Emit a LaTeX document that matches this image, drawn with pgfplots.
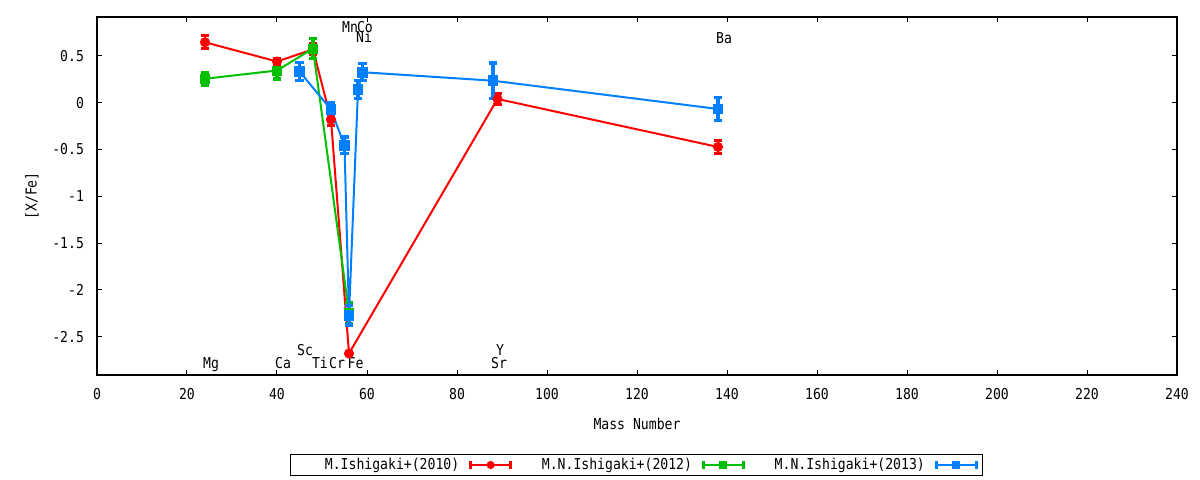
\documentclass[border=0pt]{standalone}
\usepackage{pgfplots}
\pgfplotsset{compat=1.18}
\usepackage{fontspec}
\setmainfont{DejaVu Sans Mono}[FakeStretch=0.875]
\definecolor{gred}{HTML}{FF0000}
\definecolor{ggreen}{HTML}{00C000}
\definecolor{gblue}{HTML}{0080FF}
\pgfplotsset{
  errline/.style={
    legend image code/.code={
      \draw[line width=1.4pt] (0pt,0pt) -- (20pt,0pt);
      \draw[line width=1.4pt] (0pt,-2pt) -- (0pt,2pt);
      \draw[line width=1.4pt] (20pt,-2pt) -- (20pt,2pt);
      \draw[shift={(10pt,0pt)}] plot[mark=#1, mark size=1.5pt] coordinates {(0,0)};
    }
  }
}
\begin{document}
\begin{tikzpicture}[font=\fontsize{7.5}{9}\selectfont]
\useasboundingbox (-48.5pt,-52.5pt) rectangle (551.5pt,187.5pt);
\begin{axis}[
  at={(0,0)}, anchor=south west,
  scale only axis, width=540pt, height=179pt,
  xmin=0, xmax=240, ymin=-2.91, ymax=0.916,
  xtick={0,20,40,60,80,100,120,140,160,180,200,220,240},
  ytick={-2.5,-2,-1.5,-1,-0.5,0,0.5},
  yticklabels={-2.5,-2,-1.5,-1,-0.5,0,0.5},
  /pgf/number format/assume math mode=true,
  tick align=inside, major tick length=2.5pt,
  tick style={line width=0.5pt, black},
  axis line style={line width=0.6pt},
  x tick label style={anchor=center, yshift=-9.5pt},
  y tick label style={anchor=east, xshift=-3pt},
  xlabel={Mass Number},
  ylabel={[X/Fe]},
  xlabel style={at={(axis description cs:0.5,0)}, anchor=center, yshift=-24.5pt},
  ylabel style={at={(axis description cs:0,0.5)}, anchor=center, yshift=32.5pt},
  legend columns=3,
  legend plot pos=right,
  legend style={at={(axis description cs:0.4995,-0.2514)}, anchor=center,
    draw=black, line width=0.5pt, inner xsep=2.5pt, inner ysep=1.5pt,
    nodes={inner sep=0pt},
    /tikz/every odd column/.append style={column sep=5pt},
    /tikz/every even column/.append style={column sep=14pt}},
  error bars/y dir=both, error bars/y explicit,
]
\addplot[color=gred, line width=1pt, mark=*, mark size=2pt, mark options={solid},
  error bars/error bar style={line width=1.4pt},
  error bars/error mark options={line width=1.4pt, mark size=2.2pt, rotate=90},
  errline=*]
  coordinates {
  (24,0.646) +- (0,0.07)
  (40,0.44) +- (0,0.03)
  (48,0.57) +- (0,0.06)
  (52,-0.18) +- (0,0.06)
  (56,-2.68) +- (0,0.0)
  (89,0.04) +- (0,0.06)
  (138,-0.473) +- (0,0.07)
  };
\addlegendentry{\makebox[82pt][r]{M.Ishigaki+(2010)}}
\addplot[color=ggreen, line width=1pt, mark=square*, mark size=2pt, mark options={solid},
  error bars/error bar style={line width=1.6pt},
  error bars/error mark options={line width=1.6pt, mark size=2.2pt, rotate=90},
  errline=square*]
  coordinates {
  (24,0.256) +- (0,0.07)
  (40,0.344) +- (0,0.09)
  (48,0.579) +- (0,0.11)
  (56,-2.25) +- (0,0.11)
  };
\addlegendentry{\makebox[76pt][r]{M.N.Ishigaki+(2012)}}
\addplot[color=gblue, line width=1pt, mark=square*, mark size=2.2pt, mark options={solid},
  error bars/error bar style={line width=1.8pt},
  error bars/error mark options={line width=1.6pt, mark size=2.2pt, rotate=90},
  errline=square*]
  coordinates {
  (45,0.334) +- (0,0.095)
  (52,-0.073) +- (0,0.077)
  (55,-0.457) +- (0,0.09)
  (56,-2.27) +- (0,0.105)
  (58,0.139) +- (0,0.095)
  (59,0.326) +- (0,0.09)
  (88,0.235) +- (0,0.19)
  (138,-0.067) +- (0,0.12)
  };
\addlegendentry{\makebox[76pt][r]{M.N.Ishigaki+(2013)}}
\node[anchor=base west, inner sep=0pt] at (axis cs:23.5,-2.842) {Mg};
\node[anchor=base west, inner sep=0pt] at (axis cs:39.5,-2.842) {Ca};
\node[anchor=base west, inner sep=0pt] at (axis cs:44.4,-2.703) {Sc};
\node[anchor=base west, inner sep=0pt] at (axis cs:47.7,-2.842) {Ti};
\node[anchor=base west, inner sep=0pt] at (axis cs:51.5,-2.842) {Cr};
\node[anchor=base west, inner sep=0pt] at (axis cs:55.6,-2.842) {Fe};
\node[anchor=base west, inner sep=0pt] at (axis cs:88.6,-2.703) {Y};
\node[anchor=base west, inner sep=0pt] at (axis cs:87.5,-2.842) {Sr};
\node[anchor=base west, inner sep=0pt] at (axis cs:54.4,0.745) {Mn};
\node[anchor=base west, inner sep=0pt] at (axis cs:57.7,0.745) {Co};
\node[anchor=base west, inner sep=0pt] at (axis cs:57.5,0.641) {Ni};
\node[anchor=base west, inner sep=0pt] at (axis cs:137.5,0.637) {Ba};
\end{axis}
\end{tikzpicture}
\end{document}
